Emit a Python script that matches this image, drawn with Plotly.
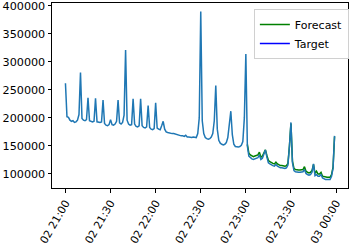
import plotly.graph_objects as go
import pandas as pd

start = "2020-01-02 21:00"
target_vals = [
    262000, 202000, 201000, 196000, 194000, 195000, 192000, 193000, 196000, 206000,
    281000, 199000, 196000, 195000, 197000, 236000, 195000, 194000, 193000, 194000,
    235000, 193000, 192000, 192000, 193000, 232000, 190000, 187000, 186000, 188000,
    197000, 188000, 187000, 189000, 194000, 232000, 191000, 189000, 192000, 205000,
    321000, 196000, 189000, 187000, 188000, 234000, 189000, 185000, 184000, 186000,
    234000, 186000, 183000, 182000, 184000, 222000, 183000, 180000, 179000, 181000,
    227000, 182000, 180000, 179000, 186000, 194000, 180000, 175000, 174000, 173000,
    173000, 172000, 172000, 171000, 170000, 170000, 169000, 168000, 168000, 167000,
    169000, 166000, 166000, 165000, 165000, 166000, 165000, 165000, 172000, 200000,
    390000, 195000, 172000, 165000, 163000, 162000, 163000, 166000, 172000, 195000,
    258000, 180000, 160000, 155000, 153000, 152000, 153000, 156000, 165000, 189000,
    212000, 170000, 153000, 149000, 148000, 148000, 149000, 151000, 158000, 200000,
    314000, 150000, 132000, 129000, 127000, 126000, 127000, 128000, 129000, 134000,
    126000, 128000, 137000, 143000, 130000, 120000, 118000, 116000, 115000, 114000,
    117000, 114000, 112000, 111000, 111000, 110000, 110000, 111000, 116000, 150000,
    192000, 120000, 106000, 104000, 103000, 103000, 103000, 103000, 104000, 108000,
    101000, 99000, 98000, 99000, 103000, 118000, 97000, 99000, 96000, 96000,
    99000, 93000, 91000, 90000, 90000, 90000, 90000, 96000, 110000, 168000,
]
forecast_start = "2020-01-02 23:01"
forecast_vals = [
    153000, 137000, 134000, 132000, 131000, 132000, 133000, 134000, 139000,
    130000, 132000, 139000, 143000, 133000, 124000, 122000, 120000, 119000, 118000,
    121000, 118000, 116000, 115000, 115000, 114000, 114000, 115000, 119000, 150000,
    190000, 123000, 110000, 108000, 107000, 107000, 107000, 107000, 108000, 113000,
    105000, 103000, 102000, 103000, 106000, 117000, 101000, 105000, 100000, 100000,
    103000, 96000, 95000, 94000, 94000, 94000, 94000, 99000, 112000, 167000,
]
tick_vals = pd.date_range("2020-01-02 21:00", "2020-01-03 00:00", freq="30min")
y_ticks = [100000, 150000, 200000, 250000, 300000, 350000, 400000]

t_target = pd.date_range(start, periods=len(target_vals), freq="1min")
t_fc = pd.date_range(forecast_start, periods=len(forecast_vals), freq="1min")

fig = go.Figure()
fig.add_trace(go.Scatter(x=t_fc, y=forecast_vals, mode="lines", name="Forecast",
                         line=dict(color="green", width=1.5)))
fig.add_trace(go.Scatter(x=t_target, y=target_vals, mode="lines", showlegend=False,
                         line=dict(color="#1f77b4", width=1.5)))
fig.add_trace(go.Scatter(x=[None], y=[None], mode="lines", name="Target",
                         line=dict(color="blue", width=1.5)))

n = len(target_vals) - 1
pad = pd.Timedelta(minutes=0.05 * n)
x0 = t_target[0] - pad
x1 = t_target[-1] + pad
ymin = min(min(target_vals), min(forecast_vals))
ymax = max(max(target_vals), max(forecast_vals))
yp = 0.05 * (ymax - ymin)

fig.update_layout(
    width=359, height=246,
    margin=dict(l=52, r=11, t=3, b=58),
    paper_bgcolor="white", plot_bgcolor="white",
    font=dict(family="DejaVu Sans", size=11.2, color="black"),
    legend=dict(x=0.682, y=0.968, xanchor="left", yanchor="top",
                bgcolor="rgba(255,255,255,0.8)", bordercolor="#d0d0d0", borderwidth=1,
                font=dict(size=11), itemwidth=30, tracegroupgap=0),
    xaxis=dict(range=[x0, x1], tickvals=list(tick_vals), tickformat="%d %H:%M",
               tickangle=-60, showgrid=False, zeroline=False, automargin=False,
               ticklabeloverflow="allow", tickfont=dict(size=10.8),
               showline=True, linecolor="black", linewidth=1, mirror=True,
               ticks="outside", ticklen=3.5, tickcolor="black"),
    yaxis=dict(range=[ymin - yp, ymax + yp], tickvals=y_ticks, tickformat="d",
               showgrid=False, zeroline=False, automargin=False,
               ticklabeloverflow="allow",
               showline=True, linecolor="black", linewidth=1, mirror=True,
               ticks="outside", ticklen=3.5, tickcolor="black"),
)
fig.write_html("out.html", config={"displayModeBar": False},
               post_script="document.body.style.margin='0';")
